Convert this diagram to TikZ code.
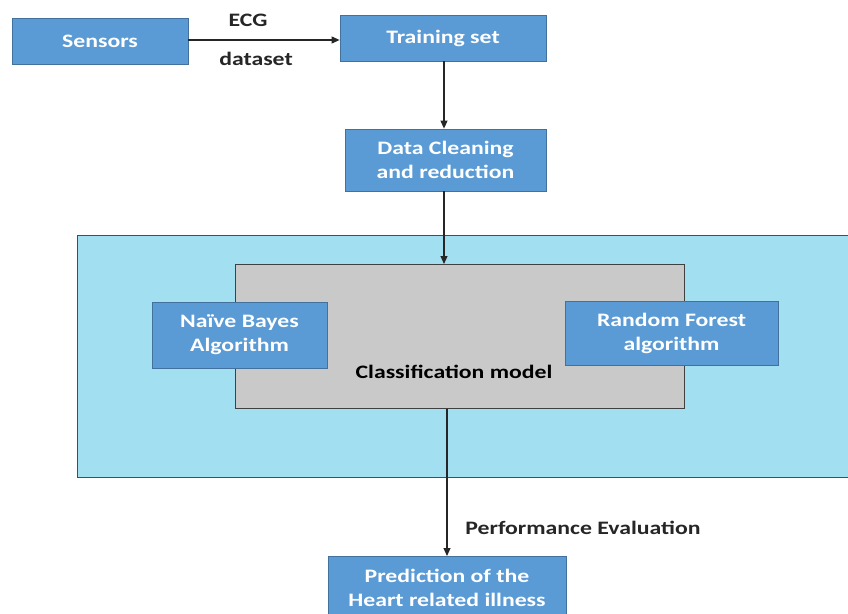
\documentclass[tikz,border=0pt]{standalone}
\usepackage{fontspec}
\setmainfont{Carlito}[FakeStretch=1.25]
\usetikzlibrary{arrows.meta}
\definecolor{boxblue}{HTML}{5B9BD5}
\definecolor{boxedge}{HTML}{41719C}
\definecolor{cyanbg}{HTML}{A2DFF0}
\definecolor{graybg}{HTML}{C9C9C9}
\tikzset{
  bluebox/.style={draw=boxedge, line width=0.8pt, fill=boxblue, text=white, font=\bfseries\fontsize{19}{24}\selectfont, align=center, inner sep=0pt},
  conn/.style={draw=black!85, line width=1.1pt, -{Triangle[length=8pt,width=7pt]}},
  lbl/.style={font=\bfseries\fontsize{19}{24}\selectfont, text=black!85, inner sep=0pt},
}
\begin{document}
\begin{tikzpicture}[x=1pt,y=-1pt]
\useasboundingbox (0,0) rectangle (848,613);
\fill[white] (0,0) rectangle (848,613);
% cyan background
\node[draw=black!70, line width=0.9pt, fill=cyanbg, minimum width=775pt, minimum height=242pt, inner sep=0pt, anchor=north west] (bg) at (77,235) {};
% gray classification box
\node[draw=black!75, line width=0.9pt, fill=graybg, minimum width=449pt, minimum height=144pt, inner sep=0pt, anchor=north west] (clf) at (235,264) {};
\node[font=\bfseries\fontsize{19}{24}\selectfont, text=black, inner sep=0pt] (clflbl) at (454,372) {Classification model};
% boxes
\node[bluebox, minimum width=176pt, minimum height=46pt] (sens) at (100,41) {Sensors};
\node[bluebox, minimum width=206pt, minimum height=46pt] (train) at (443,38) {Training set};
\node[bluebox, minimum width=201pt, minimum height=62pt] (clean) at (445.5,160) {Data Cleaning\\and reduction};
\node[bluebox, minimum width=175pt, minimum height=66pt] (nb) at (239.5,335) {Naïve Bayes\\Algorithm};
\node[bluebox, minimum width=213pt, minimum height=64pt] (rf) at (671.5,333) {Random Forest\\algorithm};
\node[bluebox, minimum width=238pt, minimum height=62pt, anchor=north] (pred) at (447,556) {Prediction of the\\Heart related illness};
% connectors
\draw[conn] (sens.east |- 0,40) -- (train.west |- 0,40);
\draw[conn] (train.south -| 444,0) -- (clean.north -| 444,0);
\draw[conn] (clean.south -| 444,0) -- (clf.north -| 444,0);
\draw[conn] (clf.south -| 447,0) -- (pred.north);
% labels
\node[lbl] (ecg) at (248,20) {ECG};
\node[lbl] (ds) at (256,59) {dataset};
\node[lbl] (perf) at (583,528) {Performance Evaluation};
\end{tikzpicture}
\end{document}
